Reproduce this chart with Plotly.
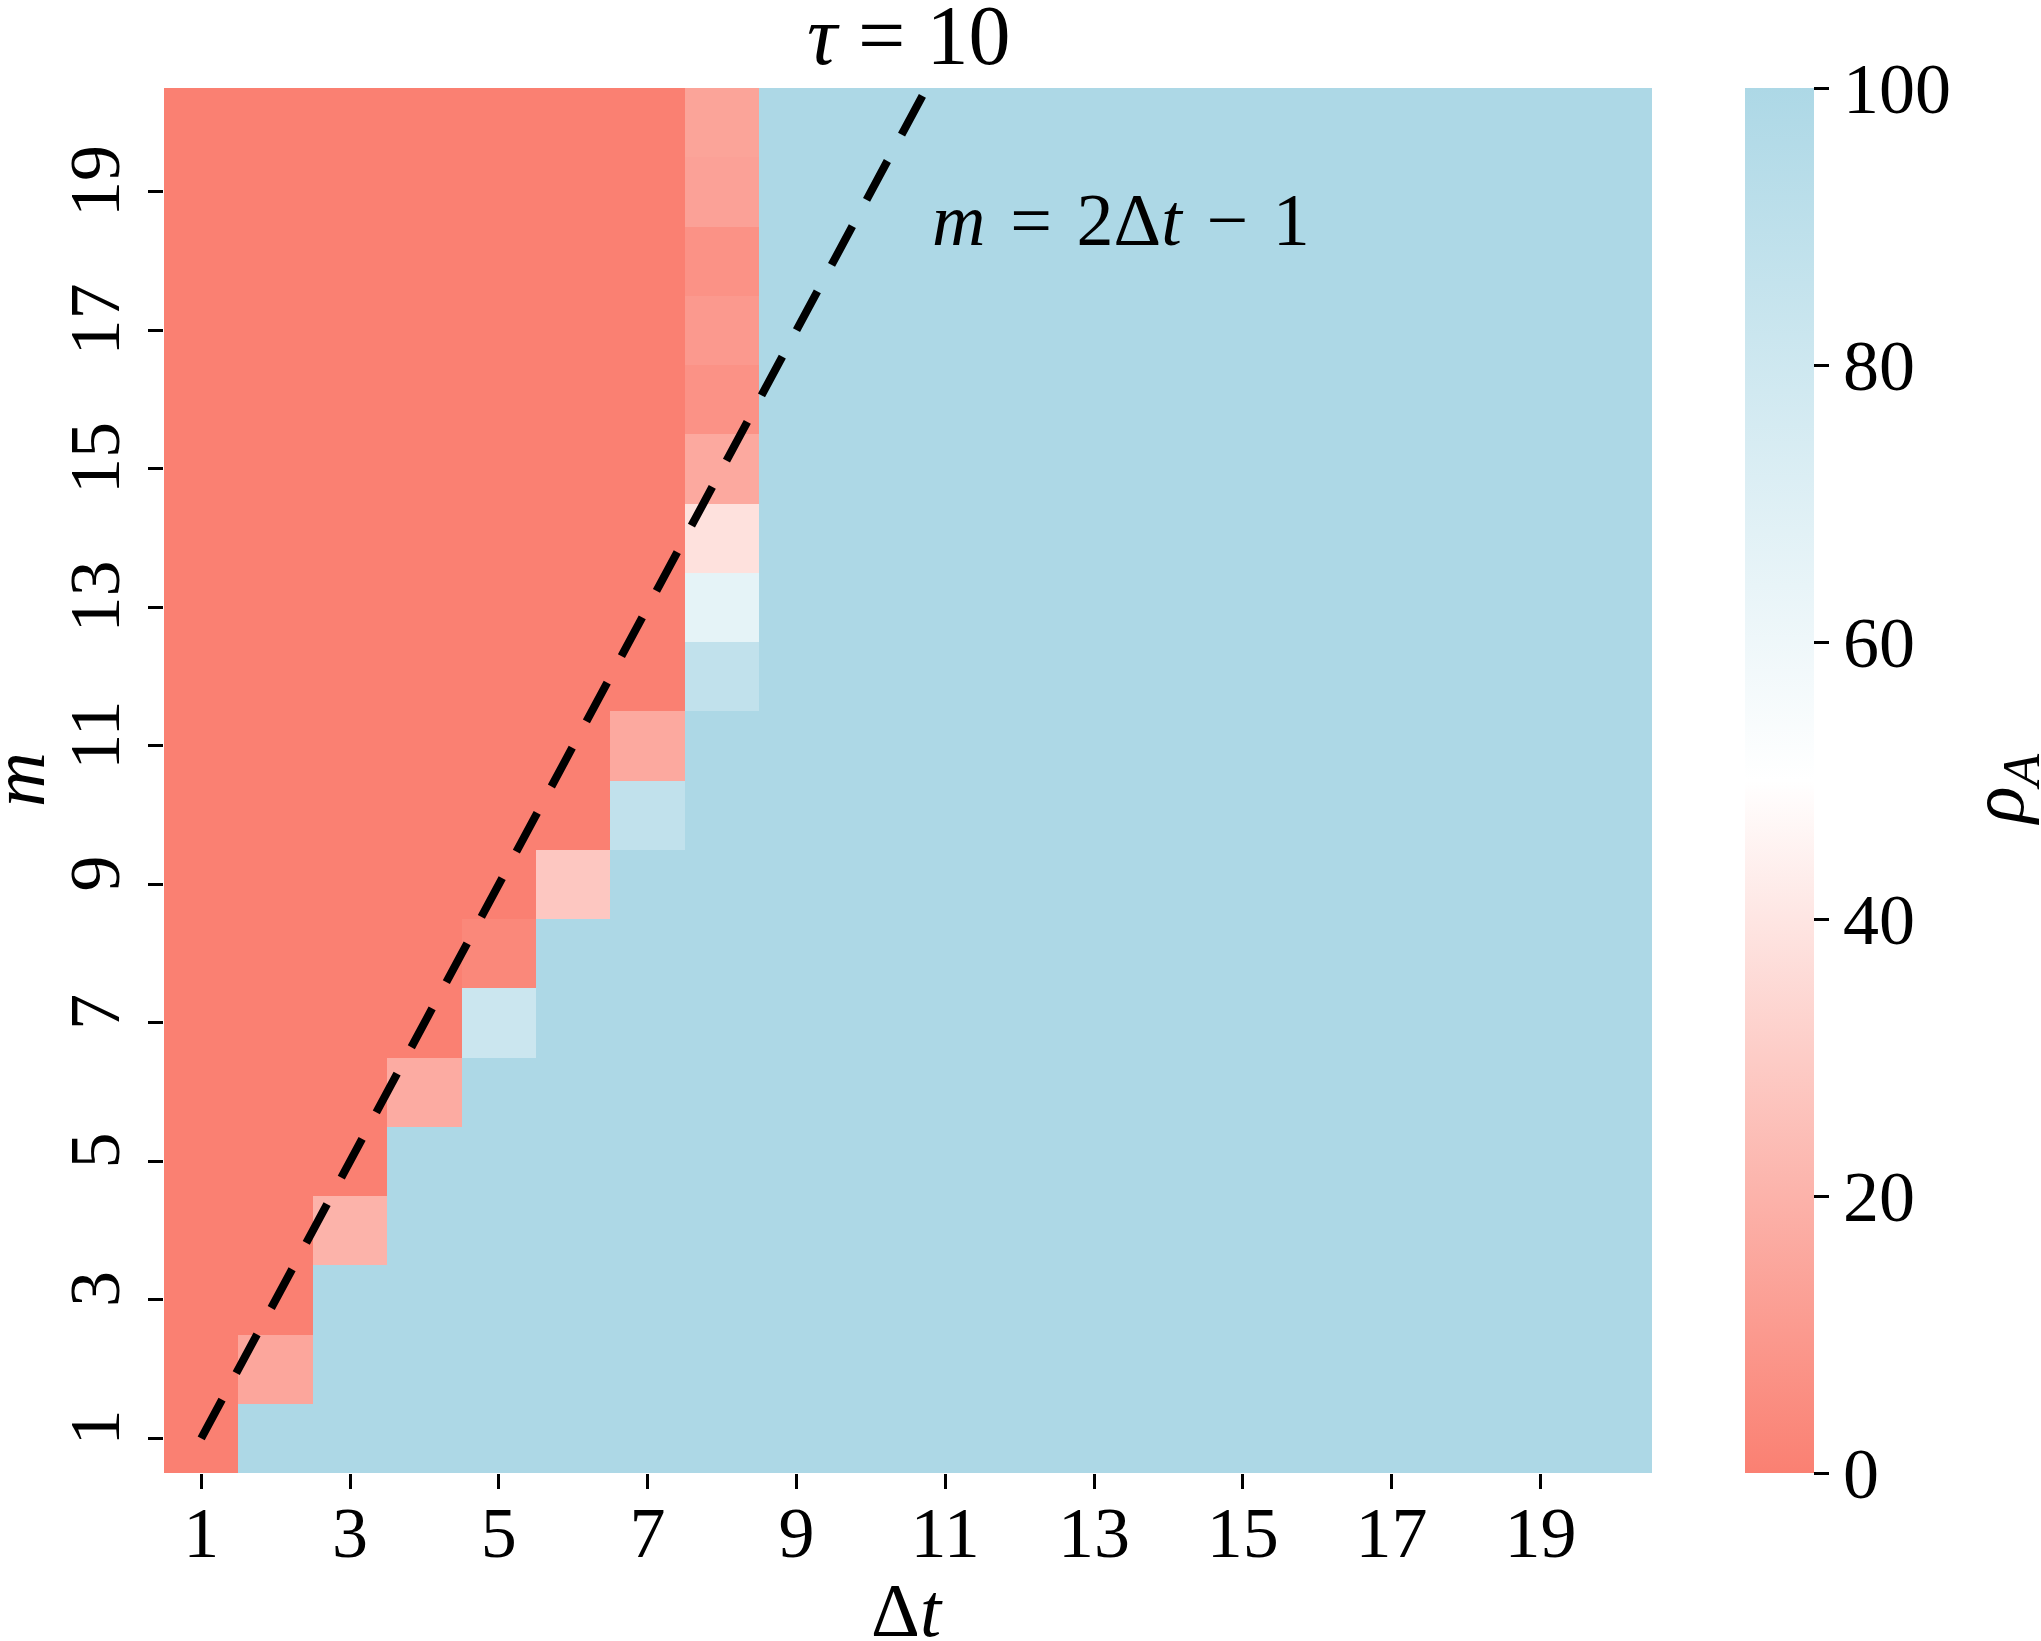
import plotly.graph_objects as go

# Axes categories
delta_t = list(range(1, 21))
m_vals = list(range(1, 21))
tick_vals = list(range(1, 21, 2))
cbar_ticks = [0, 20, 40, 60, 80, 100]

# rho_A (%) per column of delta t, listed for m = 1..20 (bottom to top)
col_dt01 = [0] * 20
col_dt02 = [100, 15] + [0] * 18
col_dt03 = [100, 100, 100, 20] + [0] * 16
col_dt04 = [100] * 5 + [17] + [0] * 14
col_dt05 = [100] * 6 + [82, 3] + [0] * 12
col_dt06 = [100] * 8 + [28] + [0] * 11
col_dt07 = [100] * 9 + [88, 16] + [0] * 9
col_dt08 = [100] * 11 + [88, 66, 38, 16, 7, 10, 7, 13, 14]
col_dt09_20 = [100] * 20

columns = [col_dt01, col_dt02, col_dt03, col_dt04, col_dt05, col_dt06,
           col_dt07, col_dt08] + [col_dt09_20] * 12

# z rows indexed by m, columns by delta t
z = [[columns[j][i] for j in range(20)] for i in range(20)]

# reference line m = 2*dt - 1
line_dt = [1, 10.75]
line_m = [2 * v - 1 for v in line_dt]

FONT = "Liberation Serif, Times New Roman, Times, serif"
W, H = 2041, 1641
L, R, T, B = 164, 389, 88, 168
PW = W - L - R
PH = H - T - B

def px_x(px):
    return (px - L) / PW

def px_y(py):
    return (H - B - py) / PH

fig = go.Figure()
fig.add_trace(go.Heatmap(
    x=delta_t, y=m_vals, z=z,
    zmin=0, zmax=100,
    colorscale=[[0, "#FA8072"], [0.5, "#FFFFFF"], [1, "#ADD8E6"]],
    colorbar=dict(
        x=px_x(1745), xanchor="left", xref="paper",
        y=0.5, yanchor="middle", len=1, lenmode="fraction",
        thickness=69, thicknessmode="pixels",
        outlinewidth=0,
        tickvals=cbar_ticks, ticks="outside", ticklen=15, tickwidth=3,
        tickcolor="black",
        tickfont=dict(family=FONT, size=72, color="black"),
        ypad=0, xpad=0,
    ),
    showscale=True,
))
fig.add_trace(go.Scatter(
    x=line_dt, y=line_m, mode="lines",
    line=dict(color="black", width=8, dash="44px,30px"),
    showlegend=False, hoverinfo="skip",
))

fig.update_layout(
    width=W, height=H,
    margin=dict(l=L, r=R, t=T, b=B, pad=0),
    paper_bgcolor="white", plot_bgcolor="white",
    font=dict(family=FONT, color="black"),
    showlegend=False,
    xaxis=dict(
        range=[0.5, 20.5], tickvals=tick_vals, ticks="outside",
        ticklen=15, tickwidth=3, tickcolor="black",
        ticklabelstandoff=-18,
        tickfont=dict(family=FONT, size=72, color="black"),
        showgrid=False, zeroline=False, showline=False,
    ),
    yaxis=dict(
        range=[0.5, 20.5], tickvals=tick_vals, ticks="outside",
        ticklen=15, tickwidth=3, tickcolor="black", tickangle=-90,
        tickfont=dict(family=FONT, size=72, color="black"),
        showgrid=False, zeroline=False, showline=False,
    ),
    annotations=[
        dict(text="<i>τ</i> = 10", x=0.5, y=px_y(36), xref="paper", yref="paper",
             xanchor="center", yanchor="middle", showarrow=False,
             font=dict(family=FONT, size=84, color="black")),
        dict(text="<i>m</i> \u200a= \u200a2Δ<i>t</i> \u200a− \u200a1", x=10.8, y=18.6,
             xref="x", yref="y",
             xanchor="left", yanchor="middle", showarrow=False,
             font=dict(family=FONT, size=74, color="black")),
        dict(text="Δ<i>t</i>", x=px_x(907), y=px_y(1610), xref="paper", yref="paper",
             xanchor="center", yanchor="middle", showarrow=False,
             font=dict(family=FONT, size=76, color="black")),
        dict(text="<i>m</i>", x=px_x(18), y=px_y(780), xref="paper", yref="paper",
             xanchor="center", yanchor="middle", showarrow=False, textangle=-90,
             font=dict(family=FONT, size=76, color="black")),
        dict(text="<i>ρ</i><sub><i>A</i></sub>", x=px_x(2003), y=px_y(790),
             xref="paper", yref="paper",
             xanchor="center", yanchor="middle", showarrow=False, textangle=-90,
             font=dict(family=FONT, size=76, color="black")),
    ],
)

fig.write_html("out.html")
